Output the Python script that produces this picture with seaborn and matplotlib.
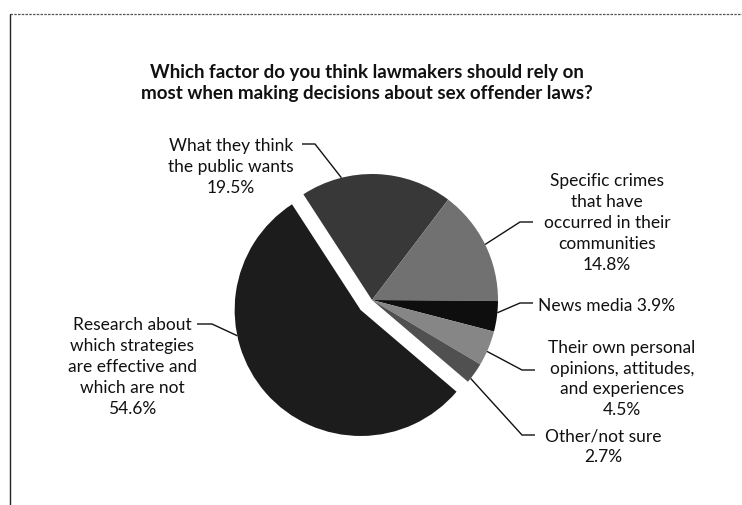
import numpy as np
import matplotlib
matplotlib.use("Agg")
import matplotlib.pyplot as plt
import seaborn as sns

# ---- data ----
categories = [
    "What they think\nthe public wants",
    "Specific crimes\nthat have\noccurred in their\ncommunities",
    "News media",
    "Their own personal\nopinions, attitudes,\nand experiences",
    "Other/not sure",
    "Research about\nwhich strategies\nare effective and\nwhich are not",
]
values = [19.5, 14.8, 3.9, 4.5, 2.7, 54.6]
colors = ["#383838", "#717171", "#0e0e0e", "#868686", "#505050", "#1c1c1c"]
explode = [0, 0, 0, 0, 0, 0.12]
title = ("Which factor do you think lawmakers should rely on\n"
         "most when making decisions about sex offender laws?")

sns.set_theme(style="white")
plt.rcParams["font.family"] = ["Lato", "DejaVu Sans"]

W, H = 742, 505
fig = plt.figure(figsize=(W / 100, H / 100), dpi=100)
fig.patch.set_facecolor("white")

# pie axes covering the whole figure, 1 data unit = R pixels
R = 126.0
cx, cy = 372.0, 300.0
ax = fig.add_axes([0, 0, 1, 1])
wedges, _ = ax.pie(values, colors=colors, explode=explode, startangle=123,
                   counterclock=False, radius=1.0,
                   wedgeprops=dict(linewidth=0))
ax.set_xlim(-cx / R, (W - cx) / R)
ax.set_ylim(-(H - cy) / R, cy / R)
ax.set_aspect("auto")
ax.axis("off")


def P(x, y):
    """pixel layout position -> data coords"""
    return ((x - cx) / R, (cy - y) / R)


def edge_point(w, frac):
    t1, t2 = w.theta1, w.theta2
    a = np.deg2rad(t1 + frac * (t2 - t1))
    return (w.center[0] + w.r * np.cos(a), w.center[1] + w.r * np.sin(a))


# label layouts: (text pos px, ha, wedge frac, elbow px, end px)
labels = [f"{c}\n{v}%" for c, v in zip(categories, values)]
labels[2] = f"{categories[2]} {values[2]}%"
layout = [
    dict(pos=(231, 167), ha="center", frac=0.73, elbow=(315, 144), end=(302, 144)),
    dict(pos=(607, 223), ha="center", frac=0.5, elbow=(520, 222), end=(533, 222)),
    dict(pos=(538, 306), ha="left", frac=0.62, elbow=(520, 303), end=(533, 303)),
    dict(pos=(622, 379), ha="center", frac=0.41, elbow=(522, 370), end=(535, 370)),
    dict(pos=(603, 447), ha="center", frac=0.2, elbow=(522, 435), end=(535, 435)),
    dict(pos=(132, 367), ha="center", frac=0.35, elbow=(212, 324), end=(197, 324)),
]

for w, lab, lay in zip(wedges, labels, layout):
    tx, ty = P(*lay["pos"])
    ax.text(tx, ty, lab, ha=lay["ha"], va="center", fontsize=12.5,
            linespacing=1.38, color="#111111")
    p0 = edge_point(w, lay["frac"])
    p1 = P(*lay["elbow"])
    p2 = P(*lay["end"])
    ax.plot([p0[0], p1[0], p2[0]], [p0[1], p1[1], p2[1]], color="#111111",
            lw=1.0, clip_on=False, solid_capstyle="butt")

# title
fig.text(367 / W, 1 - 83 / H, title, ha="center", va="center",
         fontsize=13.5, fontweight="bold", linespacing=1.35, color="#111111")

# scanned frame (left and top rule)
fig.add_artist(plt.Line2D([10 / W, 10 / W], [0, 1 - 14 / H], transform=fig.transFigure,
                          color="#222222", lw=1.0))
fig.add_artist(plt.Line2D([10 / W, 1], [1 - 14 / H, 1 - 14 / H], transform=fig.transFigure,
                          color="#555555", lw=0.9, linestyle=(0, (2, 1))))

fig.savefig("out.png", dpi=100, facecolor="white")
